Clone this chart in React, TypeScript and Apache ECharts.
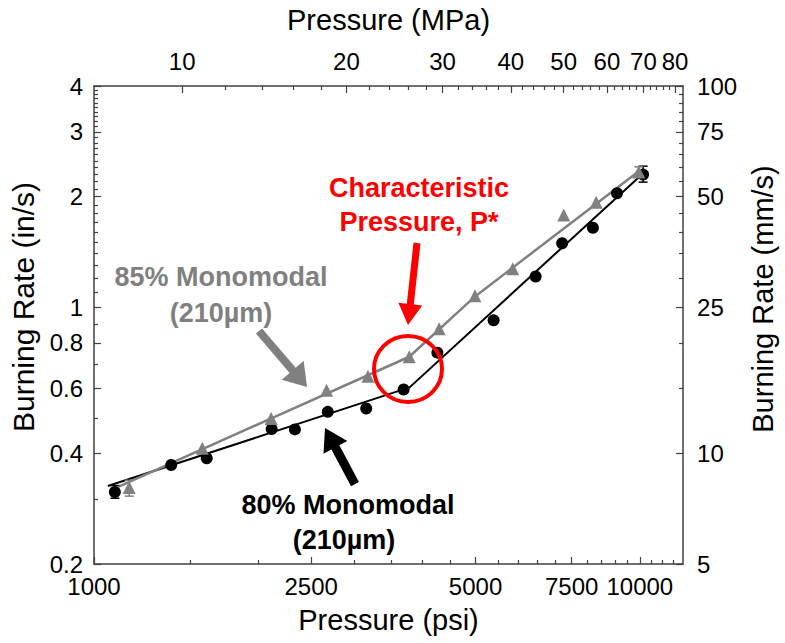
import React, { useEffect, useRef } from "react";
import * as echarts from "echarts";

// ---- data ----
const pressure80 = [1092, 1385, 1609, 2116, 2334, 2681, 3153, 3692, 4257, 5397, 6443, 7205, 8204, 9082, 10139];
const rate80 = [0.314, 0.372, 0.388, 0.466, 0.465, 0.519, 0.53, 0.597, 0.752, 0.921, 1.212, 1.493, 1.645, 2.042, 2.296];
const pressure85 = [1160, 1579, 2111, 2667, 3176, 3781, 4288, 4987, 5851, 7254, 8318, 9955];
const rate85 = [0.323, 0.413, 0.498, 0.594, 0.649, 0.733, 0.874, 1.075, 1.272, 1.781, 1.93, 2.332];

const fit80Pressure = [1060, 3786, 10169];
const fit80Rate = [0.326, 0.605, 2.324];
const fit85Pressure = [1110, 3781, 4991, 10040];
const fit85Rate = [0.325, 0.733, 1.07, 2.368];

const err80Pressure = [1092, 10139];
const err80Low = [0.302, 2.19];
const err80High = [0.327, 2.42];
const err85Pressure = [1160, 9955];
const err85Low = [0.306, 2.26];
const err85High = [0.338, 2.41];

// ---- axis ticks ----
const psiMin = 1000;
const psiMax = 12000;
const psiMajor = [1000, 2500, 5000, 7500, 10000];
const psiMinor = [1500, 2000, 3000, 3500, 4000, 4500, 5500, 6000, 6500, 7000, 8000, 8500, 9000, 9500, 10500, 11000, 11500];
const PSI_PER_MPA = 145.0377;
const mpaMajor = [10, 20, 30, 40, 50, 60, 70, 80];
const mpaMinor = [12, 14, 16, 18, 22, 24, 26, 28, 32, 34, 36, 38, 42, 44, 46, 48, 52, 54, 56, 58, 62, 64, 66, 68, 72, 74, 76, 78];
const inMin = 0.2;
const inMax = 4;
const inMajor = [0.2, 0.4, 0.6, 0.8, 1, 2, 3, 4];
const inMinor = [0.3, 0.5, 0.7, 0.9, 1.1, 1.2, 1.3, 1.4, 1.5, 1.6, 1.7, 1.8, 1.9, 2.1, 2.2, 2.3, 2.4, 2.5, 2.6, 2.7, 2.8, 2.9, 3.1, 3.2, 3.3, 3.4, 3.5, 3.6, 3.7, 3.8, 3.9];
const mmMin = 5;
const mmMax = 100;
const mmMajor = [5, 10, 25, 50, 75, 100];
const mmMinor = [15, 20, 30, 35, 40, 45, 55, 60, 65, 70, 80, 85, 90, 95];

const FONT = "'Liberation Sans', Arial, Helvetica, sans-serif";
const L = (v: number) => Math.log10(v);
const AXIS_COLOR = "#404040";
const GRAY = "#808080";

function arrowPoints(x1: number, y1: number, x2: number, y2: number, sw: number, hw: number, hl: number) {
  const len = Math.hypot(x2 - x1, y2 - y1);
  const ux = (x2 - x1) / len;
  const uy = (y2 - y1) / len;
  const nx = -uy;
  const ny = ux;
  const bx = x2 - ux * hl;
  const by = y2 - uy * hl;
  return [
    [x1 + (nx * sw) / 2, y1 + (ny * sw) / 2],
    [bx + (nx * sw) / 2, by + (ny * sw) / 2],
    [bx + (nx * hw) / 2, by + (ny * hw) / 2],
    [x2, y2],
    [bx - (nx * hw) / 2, by - (ny * hw) / 2],
    [bx - (nx * sw) / 2, by - (ny * sw) / 2],
    [x1 - (nx * sw) / 2, y1 - (ny * sw) / 2],
  ];
}

function fmtNum(v: number) {
  const r = Math.pow(10, v);
  return String(Math.round(r * 10) / 10);
}

function mainAxis(extra: any) {
  return {
    type: "value",
    splitLine: { show: false },
    axisLine: { show: true, onZero: false, lineStyle: { color: AXIS_COLOR, width: 1.5 } },
    ...extra,
  };
}

function minorAxis(extra: any, ticks: number[]) {
  return {
    type: "value",
    splitLine: { show: false },
    axisLine: { show: false, onZero: false },
    axisLabel: { show: false },
    axisTick: { show: true, inside: true, length: 4, customValues: ticks, lineStyle: { color: AXIS_COLOR, width: 1.2 } },
    ...extra,
  };
}

function errorSeries(px: number[], lo: number[], hi: number[], color: string) {
  return {
    type: "custom",
    xAxisIndex: 0,
    yAxisIndex: 0,
    z: 3,
    data: px.map((p, i) => [L(p), L(lo[i]), L(hi[i])]),
    encode: { x: 0, y: [1, 2] },
    renderItem: (_params: any, api: any) => {
      const x = api.value(0);
      const pLo = api.coord([x, api.value(1)]);
      const pHi = api.coord([x, api.value(2)]);
      const w = 4.5;
      const st = { stroke: color, lineWidth: 1.5 };
      return {
        type: "group",
        children: [
          { type: "line", shape: { x1: pLo[0], y1: pLo[1], x2: pHi[0], y2: pHi[1] }, style: st },
          { type: "line", shape: { x1: pLo[0] - w, y1: pLo[1], x2: pLo[0] + w, y2: pLo[1] }, style: st },
          { type: "line", shape: { x1: pHi[0] - w, y1: pHi[1], x2: pHi[0] + w, y2: pHi[1] }, style: st },
        ],
      };
    },
  };
}

function text(x: number, y: number, t: string, color: string) {
  return {
    type: "text",
    x,
    y,
    z: 100,
    style: {
      text: t,
      fill: color,
      fontSize: 27,
      fontWeight: "bold",
      fontFamily: FONT,
      align: "center",
      verticalAlign: "middle",
    },
  };
}

export default function App() {
  const ref = useRef<HTMLDivElement>(null);

  useEffect(() => {
    if (!ref.current) return;
    const chart = echarts.init(ref.current, undefined, { renderer: "svg" });

    const labelStyle = { fontSize: 24, fontFamily: FONT, color: "#000" };
    const nameStyle = { fontSize: 29, fontFamily: FONT, color: "#000" };
    const majorTick = (vals: number[]) => ({
      show: true,
      inside: true,
      length: 7,
      customValues: vals,
      lineStyle: { color: AXIS_COLOR, width: 1.2 },
    });

    const psiMajorL = psiMajor.map(L);
    const mpaMajorL = mpaMajor.map((m) => L(m * PSI_PER_MPA));
    const inMajorL = inMajor.map(L);
    const mmMajorL = mmMajor.map(L);

    const option: any = {
      animation: false,
      backgroundColor: "#fff",
      grid: { left: 94, right: 97, top: 85, bottom: 79, containLabel: false },
      xAxis: [
        mainAxis({
          position: "bottom",
          min: L(psiMin),
          max: L(psiMax),
          axisTick: majorTick(psiMajorL),
          axisLabel: {
            ...labelStyle,
            margin: 10,
            customValues: psiMajorL,
            formatter: (v: number) => String(Math.round(Math.pow(10, v))),
          },
          name: "Pressure (psi)",
          nameLocation: "middle",
          nameGap: 41,
          nameTextStyle: nameStyle,
        }),
        mainAxis({
          position: "top",
          min: L(psiMin),
          max: L(psiMax),
          axisTick: majorTick(mpaMajorL),
          axisLabel: {
            ...labelStyle,
            margin: 13,
            customValues: mpaMajorL,
            formatter: (v: number) => String(Math.round(Math.pow(10, v) / PSI_PER_MPA)),
          },
          name: "Pressure (MPa)",
          nameLocation: "middle",
          nameGap: 52,
          nameTextStyle: nameStyle,
        }),
        minorAxis({ position: "bottom", min: L(psiMin), max: L(psiMax) }, psiMinor.map(L)),
        minorAxis({ position: "top", min: L(psiMin), max: L(psiMax) }, mpaMinor.map((m) => L(m * PSI_PER_MPA))),
      ],
      yAxis: [
        mainAxis({
          position: "left",
          min: L(inMin),
          max: L(inMax),
          axisTick: majorTick(inMajorL),
          axisLabel: { ...labelStyle, margin: 11, customValues: inMajorL, formatter: fmtNum },
          name: "Burning Rate (in/s)",
          nameLocation: "middle",
          nameGap: 52,
          nameTextStyle: { ...nameStyle, fontSize: 30, padding: [0, 0, 0, 36] },
        }),
        mainAxis({
          position: "right",
          min: L(mmMin),
          max: L(mmMax),
          axisTick: majorTick(mmMajorL),
          axisLabel: { ...labelStyle, margin: 14, customValues: mmMajorL, formatter: fmtNum },
          name: "Burning Rate (mm/s)",
          nameLocation: "middle",
          nameGap: 64,
          nameTextStyle: { ...nameStyle, padding: [0, 0, 0, 52] },
        }),
        minorAxis({ position: "left", min: L(inMin), max: L(inMax) }, inMinor.map(L)),
        minorAxis({ position: "right", min: L(mmMin), max: L(mmMax) }, mmMinor.map(L)),
      ],
      series: [
        {
          type: "line",
          name: "80% fit",
          xAxisIndex: 0,
          yAxisIndex: 0,
          data: fit80Pressure.map((p, i) => [L(p), L(fit80Rate[i])]),
          showSymbol: false,
          symbol: "none",
          lineStyle: { color: "#000", width: 2 },
          z: 2,
        },
        {
          type: "line",
          name: "85% fit",
          xAxisIndex: 0,
          yAxisIndex: 0,
          data: fit85Pressure.map((p, i) => [L(p), L(fit85Rate[i])]),
          showSymbol: false,
          symbol: "none",
          lineStyle: { color: GRAY, width: 2.5 },
          z: 2,
        },
        errorSeries(err80Pressure, err80Low, err80High, "#000"),
        errorSeries(err85Pressure, err85Low, err85High, GRAY),
        {
          type: "scatter",
          name: "80% Monomodal",
          xAxisIndex: 0,
          yAxisIndex: 0,
          data: pressure80.map((p, i) => [L(p), L(rate80[i])]),
          symbol: "circle",
          symbolSize: 12,
          itemStyle: { color: "#000", opacity: 1 },
          z: 4,
        },
        {
          type: "scatter",
          name: "85% Monomodal",
          xAxisIndex: 0,
          yAxisIndex: 0,
          data: pressure85.map((p, i) => [L(p), L(rate85[i])]),
          symbol: "triangle",
          symbolSize: 13,
          itemStyle: { color: GRAY, opacity: 1 },
          z: 4,
        },
      ],
      graphic: [
        { type: "polygon", z: 100, shape: { points: arrowPoints(417, 243, 408, 325, 7, 24, 21) }, style: { fill: "#ff0000" } },
        { type: "polygon", z: 100, shape: { points: arrowPoints(259, 331, 307, 387, 8, 29, 22) }, style: { fill: GRAY } },
        { type: "polygon", z: 100, shape: { points: arrowPoints(355, 484, 325, 428, 9, 27, 22) }, style: { fill: "#000" } },
        {
          type: "ellipse",
          z: 100,
          shape: { cx: 408, cy: 369, rx: 34, ry: 33 },
          style: { fill: "none", stroke: "#ff0000", lineWidth: 4 },
        },
        text(419, 188, "Characteristic", "#ff0000"),
        text(419, 222, "Pressure, P*", "#ff0000"),
        text(221, 277, "85% Monomodal", GRAY),
        text(221, 313, "(210µm)", GRAY),
        text(348, 505, "80% Monomodal", "#000"),
        text(344, 540, "(210µm)", "#000"),
      ],
    };

    chart.setOption(option);
    return () => chart.dispose();
  }, []);

  return (
    <div
      ref={ref}
      style={{ position: "fixed", left: 0, top: 0, width: 785, height: 643, background: "#fff" }}
    />
  );
}
